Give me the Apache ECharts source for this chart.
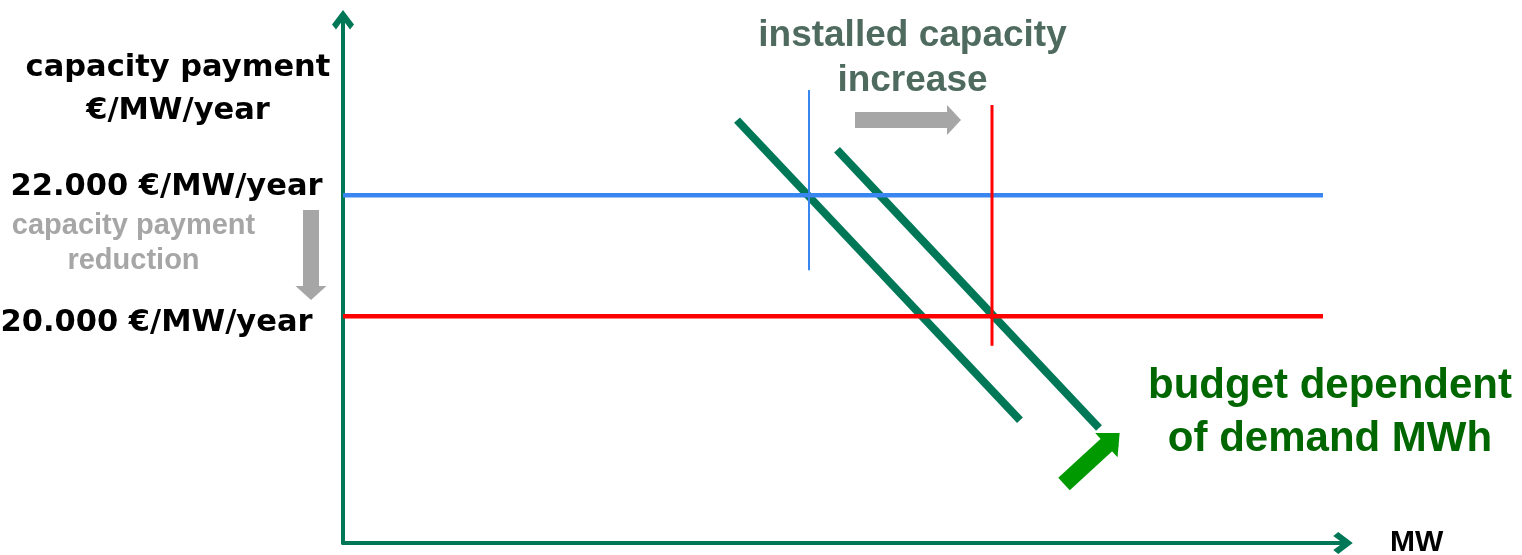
<!DOCTYPE html>
<html>
<head>
<meta charset="utf-8">
<title>Capacity payment vs installed capacity</title>
<script src="https://cdn.jsdelivr.net/npm/echarts@6/dist/echarts.min.js"></script>
<style>
  html, body { margin: 0; padding: 0; background: #ffffff; }
  #chart { width: 1522px; height: 555px; }
</style>
</head>
<body>
<div id="chart"></div>
<script>
// ---- values (x: installed capacity MW, arbitrary units; y: capacity payment €/MW/year) ----
const paymentLevels = [22000, 20000];          // old and new capacity payment
const levelExtentMW = [0, 98];                 // horizontal extent of the payment lines
const demandBefore = [[39.4, 23240], [67.7, 18280]];
const demandAfter  = [[49.4, 22750], [75.6, 18150]];
const capacityBefore = [[46.6, 23740], [46.6, 20760]];
const capacityAfter  = [[64.9, 23490], [64.9, 19510]];
const reductionArrow = [[-3.2, 21754], [-3.2, 20382]];
const increaseArrow  = [[51.2, 23242], [61.1, 23242]];
const budgetArrow    = [[72.1, 17225], [77.0, 17969]];
const axisExtentX = [0, 100];
const axisExtentY = [16250, 24900];

// ---- styling ----
const GREEN = '#007857';
const ARROW_GREEN = '#009a00';
const GREY = '#a6a6a6';
const BLUE = '#3a86f0';
const RED = '#ff0000';
// open chevron used as the arrow head of both axes (tip pointing up before rotation)
const CHEVRON = 'path://M11,0 L22,14.5 L18,19.5 L11,10 L4,19.5 L0,14.5 Z';
const WIDE = 'DejaVu Sans';
const ARIAL = 'Liberation Sans';

function euro(v) {
  return String(v).replace(/\B(?=(\d{3})+(?!\d))/g, '.') + ' €/MW/year';
}

function segment(name, coords, color, width, z) {
  return {
    name: name, type: 'line', data: coords, symbol: 'none', silent: true,
    lineStyle: { color: color, width: width, cap: 'butt' }, z: z, clip: false
  };
}

function arrow(name, coords, color, width, head) {
  return {
    name: name, type: 'lines', coordinateSystem: 'cartesian2d', silent: true, clip: false,
    symbol: ['none', 'triangle'], symbolSize: [[1, 1], head],
    lineStyle: { color: color, width: width, opacity: 1, curveness: 0, cap: 'butt' },
    itemStyle: { color: color },
    data: [{ coords: coords }], z: 4
  };
}

const plainText = { textBorderWidth: 0, textBorderColor: 'transparent', textShadowBlur: 0, opacity: 1 };

function note(coord, text, font, size, weight, color, lineHeight) {
  return {
    value: coord,
    label: Object.assign({
      show: true, position: 'inside', formatter: text, align: 'center', verticalAlign: 'middle',
      fontFamily: font, fontSize: size, fontWeight: weight, color: color, lineHeight: lineHeight
    }, plainText)
  };
}

const chart = echarts.init(document.getElementById('chart'), null, { renderer: 'canvas' });

const axisCommon = {
  type: 'value',
  axisTick: { show: false },
  axisLabel: { show: false },
  splitLine: { show: false }
};

const hiddenMarker = { color: 'rgba(0,0,0,0)', opacity: 1 };

chart.setOption({
  animation: false,
  backgroundColor: '#ffffff',
  grid: { left: 343, right: 179, top: 19.7, bottom: 12, outerBoundsMode: 'none' },
  xAxis: Object.assign({}, axisCommon, {
    min: axisExtentX[0], max: axisExtentX[1],
    axisLine: { show: true, onZero: false, symbol: ['none', CHEVRON], symbolSize: [22, 20],
      lineStyle: { color: GREEN, width: 4 } },
    name: 'MW', nameLocation: 'end', nameGap: 47,
    nameTextStyle: { fontFamily: ARIAL, fontSize: 30, fontWeight: 'bold', color: '#000000',
      align: 'left', verticalAlign: 'middle' }
  }),
  yAxis: Object.assign({}, axisCommon, {
    min: axisExtentY[0], max: axisExtentY[1],
    axisLine: { show: true, onZero: false, symbol: ['none', CHEVRON], symbolSize: [22, 20],
      lineStyle: { color: GREEN, width: 4 } }
  }),
  series: [
    segment('demand', demandBefore, GREEN, 8, 2),
    segment('demand shifted', demandAfter, GREEN, 8, 2),
    segment('payment ' + paymentLevels[0], levelExtentMW.map(x => [x, paymentLevels[0]]), BLUE, 4.5, 3),
    segment('payment ' + paymentLevels[1], levelExtentMW.map(x => [x, paymentLevels[1]]), RED, 4.5, 3),
    segment('capacity before', capacityBefore, BLUE, 2, 3),
    segment('capacity after', capacityAfter, RED, 3, 3),
    arrow('payment reduction', reductionArrow, GREY, 16, [31, 14]),
    arrow('capacity increase', increaseArrow, GREY, 16, [30, 14]),
    arrow('budget', budgetArrow, ARROW_GREEN, 17, [33, 18]),
    {
      name: 'payment levels', type: 'scatter', silent: true, clip: false, symbolSize: 1,
      itemStyle: hiddenMarker, z: 5,
      data: [
        { value: [0, paymentLevels[0]],
          label: { show: true, position: 'left', distance: 20, offset: [0, -7.8] } },
        { value: [0, paymentLevels[1]],
          label: { show: true, position: 'left', distance: 30, offset: [0, 7.4] } }
      ],
      label: Object.assign({
        formatter: p => euro(p.value[1]),
        fontFamily: WIDE, fontSize: 30.5, fontWeight: 'bold', color: '#000000'
      }, plainText)
    },
    {
      name: 'notes', type: 'scatter', silent: true, clip: false, symbolSize: 1,
      itemStyle: hiddenMarker, z: 5,
      data: [
        note([-16.5, 23746], 'capacity payment\n€/MW/year', WIDE, 30.5, 'bold', '#000000', 43),
        note([-20.95, 21200], 'capacity payment\nreduction', ARIAL, 29, 'bold', GREY, 35),
        note([56.95, 24267], 'installed capacity\nincrease', ARIAL, 37, 'bold', '#4f6b5f', 45),
        note([98.7, 18407], 'budget dependent\nof demand MWh', ARIAL, 42, 'bold', '#006600', 53)
      ]
    }
  ]
});
</script>
</body>
</html>
